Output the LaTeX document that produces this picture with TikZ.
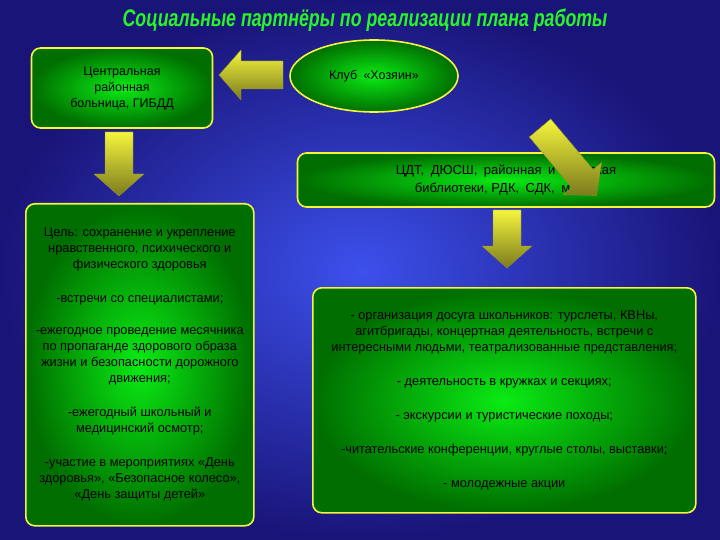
\documentclass[tikz,border=0pt]{standalone}
\usepackage{fontspec}
\setmainfont{Liberation Sans}
\usetikzlibrary{shapes.geometric,shadings}
\definecolor{bgin}{RGB}{60,80,235}
\definecolor{bgout}{RGB}{25,20,120}
\definecolor{gin}{RGB}{10,235,20}
\definecolor{gout}{RGB}{0,110,0}
\definecolor{yb}{RGB}{245,245,60}
\definecolor{ttl}{RGB}{40,245,40}
\tikzset{
 gbox/.style={draw=yb,line width=1.6pt,rounded corners=9pt,inner color=gin,outer color=gout,font=\fontsize{12.5}{16}\selectfont,align=center,text=black},
 yarrow/.style={draw=yb!60!black,line width=0.4pt,top color=yb,bottom color=yb!50!black}
}
\newcommand{\blockarr}[1]{(0,-14) -- (#1-22,-14) -- (#1-22,-25) -- (#1,0) -- (#1-22,25) -- (#1-22,14) -- (0,14) -- cycle}
\begin{document}
\begin{tikzpicture}[x=1pt,y=-1pt]
\fill[inner color=bgin,outer color=bgout] (0,0) rectangle (720,540);
\useasboundingbox (0,0) rectangle (720,540);
\node[text=ttl,font=\bfseries\itshape\fontsize{24}{26}\selectfont,xscale=0.74] (title) at (365,20) {Социальные партнёры по реализации плана работы};
\node[gbox,minimum width=181pt,minimum height=80pt] (crb) at (122,88) {Центральная\\районная\\больница, ГИБДД};
\node[ellipse,draw=yb,line width=1.6pt,inner color=gin,outer color=gout,minimum width=168pt,minimum height=72pt,font=\fontsize{12.5}{14}\selectfont] (club) at (374,76) {Клуб\enspace «Хозяин»};
\node[gbox,minimum width=417pt,minimum height=54pt,font=\fontsize{13}{18}\selectfont] (cdt) at (506,180) {ЦДТ,\enspace ДЮСШ,\enspace районная\enspace и\enspace сельская\\библиотеки, РДК,\enspace СДК,\enspace музеи};
\node[gbox,minimum width=228pt,minimum height=322pt,anchor=north west,font=\fontsize{12.8}{16}\selectfont] (health) at (25,203) {%
Цель: сохранение и укрепление\\ нравственного, психического и\\ физического здоровья\\[18pt]
-встречи со специалистами;\\[16pt]
-ежегодное проведение месячника\\ по пропаганде здорового образа\\ жизни и безопасности дорожного\\ движения;\\[18pt]
-ежегодный школьный и\\ медицинский осмотр;\\[18pt]
-участие в мероприятиях «День\\ здоровья», «Безопасное колесо»,\\ «День защиты детей»};
\node[gbox,minimum width=383pt,minimum height=225pt,anchor=north west,font=\fontsize{12.8}{16}\selectfont] (leisure) at (312,287) {%
- организация досуга школьников: турслеты, КВНы,\\ агитбригады, концертная деятельность, встречи с\\ интересными людьми, театрализованные представления;\\[18pt]
- деятельность в кружках и секциях;\\[18pt]
- экскурсии и туристические походы;\\[18pt]
-читательские конференции, круглые столы, выставки;\\[18pt]
- молодежные акции};
\coordinate (a1s) at (283,75);
\coordinate (a2s) at (119,132);
\coordinate (a3s) at (540,128);
\coordinate (a4s) at (507,210);
\path[yarrow,shift={(a1s)},rotate=180] \blockarr{64};
\path[yarrow,shift={(a2s)},rotate=-90] \blockarr{64};
\path[yarrow,shift={(a3s)},rotate=-50] \blockarr{88};
\path[yarrow,shift={(a4s)},rotate=-90] \blockarr{58};
\end{tikzpicture}
\end{document}
